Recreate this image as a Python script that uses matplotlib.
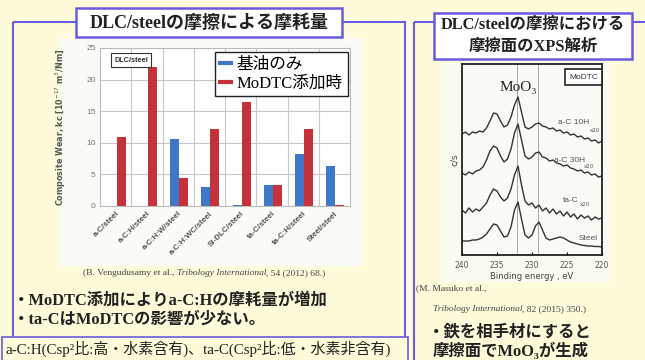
import numpy as np
import matplotlib.pyplot as plt
from matplotlib.patches import Rectangle
from matplotlib.lines import Line2D

# --- wear data (Vengudusamy et al.)
categories = ['a-C/steel', 'a-C:H/steel', 'a-C:H:W/steel', 'a-C:H:WC/steel',
              'Si-DLC/steel', 'ta-C/steel', 'ta-C:H/steel', 'Steel/steel']
base_oil = [0.0, 0.0, 10.6, 3.0, 0.1, 3.4, 8.3, 6.4]
modtc = [10.9, 22.0, 4.4, 12.2, 16.5, 3.4, 12.2, 0.1]
series_names = ['基油のみ', 'MoDTC添加時']
y_ticks = [0, 5, 10, 15, 20, 25]

# --- XPS Mo3d spectra (Masuko et al.)
energy = [240, 239.5, 239, 238.5, 238, 237.5, 237, 236.5, 236, 235.5,
          235, 234.5, 234, 233.5, 233, 232.5, 232, 231.5, 231, 230.5,
          230, 229.5, 229, 228.5, 228, 227.5, 227, 226.5, 226, 225.5,
          225, 224.5, 224, 223.5, 223, 222.5, 222, 221.5, 221, 220.5, 220]
xps_10h = [121, 123, 120, 123, 122, 124, 123, 127, 134, 142,
           141, 134, 128, 130, 138, 150, 158, 143, 128, 126,
           128, 131, 132, 129, 128, 126, 127, 124, 125, 122,
           123, 120, 121, 118, 119, 116, 117, 114, 115, 112, 114]
xps_30h = [82, 80, 83, 81, 84, 85, 88, 95, 104, 109,
           107, 99, 93, 96, 106, 122, 131, 115, 99, 96,
           98, 102, 103, 98, 97, 94, 95, 92, 91, 89,
           90, 87, 86, 84, 85, 82, 83, 80, 81, 78, 79]
xps_tac = [45, 42, 47, 43, 46, 44, 48, 52, 60, 66,
           64, 58, 54, 57, 66, 80, 89, 70, 54, 50,
           52, 47, 50, 44, 47, 42, 46, 41, 44, 39,
           43, 38, 41, 36, 40, 37, 39, 35, 38, 36, 37]
xps_steel = [14, 14, 14, 15, 15, 16, 18, 21, 26, 31,
             30, 24, 18, 19, 28, 45, 53, 36, 20, 17,
             20, 29, 33, 25, 17, 15, 16, 17, 18, 17,
             15, 13, 12, 11, 10, 9.5, 9, 9, 8.5, 8.5, 8]
ref_lines = [232.1, 229.1]
xps_ticks = [240, 235, 230, 225, 220]

bg = '#FDFBDA'
purple = '#6B5BE0'
blue = '#3F78C8'
red = '#C5323A'
mix = ['Liberation Serif', 'Noto Sans CJK JP', 'DejaVu Serif']

fig = plt.figure(figsize=(6.45, 3.6), dpi=100)
fig.patch.set_facecolor(bg)

# slide layer in pixel coordinates
ax0 = fig.add_axes([0, 0, 1, 1])
ax0.set_xlim(0, 645)
ax0.set_ylim(360, 0)
ax0.axis('off')
ax0.add_patch(Rectangle((60, 38), 302, 228, fc='#FAFAF6', ec='none'))
ax0.add_patch(Rectangle((440, 62), 170, 220, fc='#FBFBF2', ec='none'))
ax0.add_patch(Rectangle((13, 22), 392, 400, fill=False, ec=purple, lw=1.5))
ax0.add_patch(Rectangle((414, 22), 300, 400, fill=False, ec=purple, lw=1.5))
ax0.add_patch(Rectangle((76, 8), 266, 29, fc='white', ec=purple, lw=1.8))
ax0.add_patch(Rectangle((434, 13), 198, 46, fc='white', ec=purple, lw=1.8))
ax0.add_patch(Rectangle((2, 337), 406, 40, fc=bg, ec=purple, lw=1.2))

ax0.text(209, 23, 'DLC/steelの摩擦による摩耗量', family=mix, fontsize=13,
         weight='bold', ha='center', va='center', color='#222')
ax0.text(533, 25, 'DLC/steelの摩擦における', family=mix, fontsize=11.8,
         weight='bold', ha='center', va='center', color='#222')
ax0.text(533, 47, '摩擦面のXPS解析', family=mix, fontsize=11.8,
         weight='bold', ha='center', va='center', color='#222')

# citations
c1 = ax0.text(83, 273, '(B. Vengudusamy et al., ', family='Liberation Serif',
              fontsize=6.8, color='#444', va='center')
c2 = ax0.annotate('Tribology International', xy=(1, 0), xycoords=c1, va='bottom',
                  family='Liberation Serif', style='italic', fontsize=6.8, color='#444')
ax0.annotate(', 54 (2012) 68.)', xy=(1, 0), xycoords=c2, va='bottom',
             family='Liberation Serif', fontsize=6.8, color='#444')
ax0.text(416, 288, '(M. Masuko et al.,', family='Liberation Serif',
         fontsize=6.8, color='#444', va='center')
c4 = ax0.text(433, 309, 'Tribology International', family='Liberation Serif',
              style='italic', fontsize=6.8, color='#444', va='center')
ax0.annotate(', 82 (2015) 350.)', xy=(1, 0), xycoords=c4, va='bottom',
             family='Liberation Serif', fontsize=6.8, color='#444')

# comments
ax0.text(13, 301, '・MoDTC添加によりa-C:Hの摩耗量が増加', family=mix, fontsize=11.8,
         weight='bold', va='center', color='#222')
ax0.text(13, 320, '・ta-CはMoDTCの影響が少ない。', family=mix, fontsize=11.8,
         weight='bold', va='center', color='#222')
ax0.text(5, 349, 'a-C:H(Csp²比:高・水素含有)、ta-C(Csp²比:低・水素非含有)', family=mix,
         fontsize=10.8, va='center', color='#222')
ax0.text(428, 332, '・鉄を相手材にすると', family=mix, fontsize=11.8,
         weight='bold', va='center', color='#222')
ax0.text(433, 351, '摩擦面でMoO₃が生成', family=mix, fontsize=11.8,
         weight='bold', va='center', color='#222')

# --- bar chart
ax = fig.add_axes([100 / 645, 1 - 206 / 360, 250 / 645, 158 / 360])
ax.set_facecolor('white')
x = np.arange(len(categories))
w = 0.29
ax.bar(x - 0.115, base_oil, w, color=blue, zorder=3)
ax.bar(x + 0.175, modtc, w, color=red, zorder=3)
ax.set_xlim(-0.5, len(categories) - 0.5)
ax.set_ylim(0, 25)
ax.set_yticks(y_ticks)
ax.set_xticks(x)
ax.set_xticks(x[:-1] + 0.5, minor=True)
ax.set_xticklabels(categories, rotation=45, ha='right', rotation_mode='anchor',
                   fontsize=5.8, color='#555', weight='bold', family='Liberation Sans')
for lab in ax.get_yticklabels():
    lab.set_fontsize(6)
    lab.set_color('#777')
    lab.set_family('Liberation Sans')
ax.tick_params(which='both', length=0, pad=3)
ax.grid(axis='y', color='#C8C8C8', lw=0.8, zorder=0)
ax.grid(axis='x', which='minor', color='#C8C8C8', lw=0.8, zorder=0)
for s in ax.spines.values():
    s.set_color('#BBBBBB')
ax.set_ylabel('Composite Wear, kc [10$^{-17}$ m$^3$/Nm]', fontsize=5.8,
              color='#555', weight='bold')
ax.yaxis.set_label_coords(-0.13, 0.5)
ax.text(0.124, 0.924, 'DLC/steel', transform=ax.transAxes, ha='center', va='center',
        fontsize=5.3, weight='bold', color='#333', family='Liberation Sans', zorder=5,
        bbox=dict(boxstyle='square,pad=0.45', fc='white', ec='#333', lw=0.8))
handles = [Line2D([0], [0], color=blue, lw=3), Line2D([0], [0], color=red, lw=3)]
leg = ax.legend(handles, series_names, loc='upper right', bbox_to_anchor=(0.99, 0.975),
                borderaxespad=0, prop={'family': mix, 'size': 12}, fancybox=False,
                handlelength=0.7, handletextpad=0.3, borderpad=0.3, labelspacing=0.15,
                framealpha=1)
leg.get_frame().set_edgecolor('#222')
leg.get_frame().set_linewidth(1.0)
leg.set_zorder(6)

# --- XPS chart
axp = fig.add_axes([462 / 645, 1 - 255 / 360, 140 / 645, 191 / 360])
axp.set_facecolor('#FBFBF5')
for e in ref_lines:
    axp.axvline(e, color='#999', lw=0.6)
for curve in [xps_10h, xps_30h, xps_tac, xps_steel]:
    axp.plot(energy, curve, color='#333', lw=1.0)
axp.set_xlim(240, 220)
axp.set_ylim(0, 191)
axp.set_xticks(xps_ticks)
axp.set_yticks([])
axp.tick_params(axis='x', direction='in', length=2, labelsize=5.5, labelcolor='#555', pad=4)
for s in axp.spines.values():
    s.set_linewidth(1.3)
    s.set_color('#222')
axp.set_xlabel('Binding energy , eV', fontsize=6, color='#444', labelpad=2)
axp.set_ylabel('c/s', fontsize=6.5, color='#444', labelpad=2)
axp.text(232.0, 168, 'MoO₃', family=mix, fontsize=11, ha='center', va='center', color='#222')
axp.text(0.97, 0.95, 'MoDTC', transform=axp.transAxes, ha='right', va='top',
         fontsize=6, color='#333', family='Liberation Sans',
         bbox=dict(boxstyle='square,pad=0.5', fc='white', ec='#222', lw=1.2))
lab_kw = dict(fontsize=6, color='#555', family='Liberation Sans', ha='center', va='center')
axp.text(224.0, 133, 'a-C 10H', **lab_kw)
axp.text(221.0, 124, 'x20', fontsize=4, color='#555', ha='center', va='center')
axp.text(224.6, 95, 'a-C 30H', **lab_kw)
axp.text(221.8, 88, 'x20', fontsize=4, color='#555', ha='center', va='center')
axp.text(224.4, 55, 'ta-C', **lab_kw)
axp.text(222.5, 50, 'x20', fontsize=4, color='#555', ha='center', va='center')
axp.text(222.0, 17, 'Steel', **lab_kw)

fig.savefig('out.png', dpi=100, facecolor=fig.get_facecolor())
